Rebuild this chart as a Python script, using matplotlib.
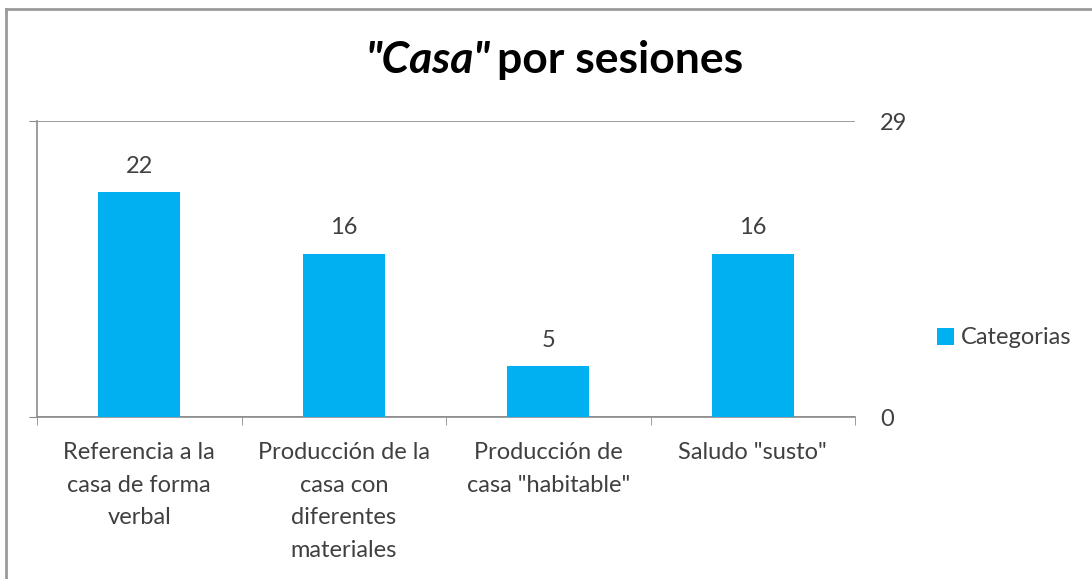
import matplotlib
matplotlib.use("Agg")
import matplotlib.pyplot as plt
from matplotlib.lines import Line2D

categories = ["Referencia a la\ncasa de forma\nverbal",
              "Producción de la\ncasa con\ndiferentes\nmateriales",
              "Producción de\ncasa \"habitable\"",
              "Saludo \"susto\""]
values = [22, 16, 5, 16]
series_name = "Categorias"
y_ticks = [0, 29]

BLUE = "#00B0F0"
TXT = "#404040"
GRID = "#8c8c8c"

plt.rcParams['font.family'] = ['Lato', 'DejaVu Sans']

fig = plt.figure(figsize=(10.92, 5.79), dpi=100)
ax = fig.add_axes([37/1092, 1-417/579, (855-37)/1092, (417-121)/579])

x = list(range(len(values)))
bars = ax.bar(x, values, width=0.4, color=BLUE, label=series_name, zorder=3)
for xi, v in zip(x, values):
    ax.annotate(str(v), (xi, v), xytext=(0, 11), textcoords="offset points",
                ha="center", va="bottom", fontsize=17, color=TXT)

ax.set_xlim(-0.5, len(values) - 0.5)
ax.set_ylim(0, 29)
ax.set_yticks(y_ticks)
ax.set_yticklabels([str(t) for t in y_ticks])
ax.tick_params(axis='y', left=True, right=False, labelleft=False, labelright=True,
               direction='out', length=6, color=GRID, pad=12, labelsize=17, labelcolor=TXT)
ax.set_xticks(x)
ax.set_xticklabels(categories)
ax.set_xticks([i - 0.5 for i in range(len(values) + 1)], minor=True)
ax.tick_params(axis='x', which='major', length=0, pad=18, labelsize=17, labelcolor=TXT)
ax.tick_params(axis='x', which='minor', length=6, color=GRID, direction='out')
for lab in ax.get_xticklabels():
    lab.set_linespacing(1.68)

ax.grid(axis='y', color=GRID, linewidth=1.2, zorder=0)
for s in ['top', 'right']:
    ax.spines[s].set_visible(False)
for s in ['left', 'bottom']:
    ax.spines[s].set_color(GRID)
    ax.spines[s].set_linewidth(1.2)

leg = ax.legend(loc='center left', bbox_to_anchor=(916/1092, 1-338/579),
                bbox_transform=fig.transFigure, frameon=False, fontsize=17,
                handlelength=0.7, handleheight=0.7, handletextpad=0.3)
for t in leg.get_texts():
    t.set_color(TXT)

fig.text(490/1092, 1-60/579, '"Casa"', ha='right', va='center', fontsize=32,
         fontweight='bold', fontstyle='italic', color='black')
fig.text(497/1092, 1-60/579, 'por sesiones', ha='left', va='center', fontsize=32,
         fontweight='bold', color='black')

fig.add_artist(Line2D([6/1092, 6/1092], [0, 1-9/579], transform=fig.transFigure,
                      color='#9a9a9a', linewidth=2))
fig.add_artist(Line2D([6/1092, 1], [1-9/579, 1-9/579], transform=fig.transFigure,
                      color='#9a9a9a', linewidth=2))

fig.savefig("out.png", dpi=100)
